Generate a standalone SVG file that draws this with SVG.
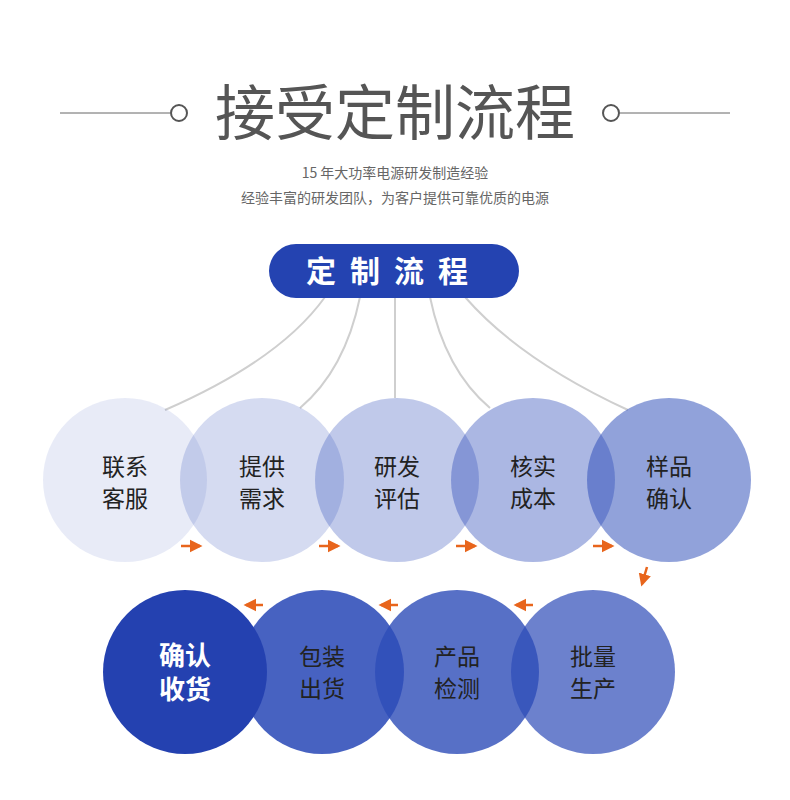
<svg xmlns="http://www.w3.org/2000/svg" width="790" height="800" viewBox="0 0 790 800">
<defs>
<style>
.c{fill:#2d4cb8}
.t{font-family:"Noto Sans CJK SC",sans-serif;font-size:23px;fill:#222;text-anchor:middle}
.conn path{fill:none;stroke:#cfcfcf;stroke-width:2}
.arr line{stroke:#e8651c;stroke-width:2.5;marker-end:url(#ah)}
</style>
<marker id="ah" markerWidth="6" markerHeight="6" refX="4" refY="3" orient="auto" markerUnits="strokeWidth"><path d="M0,0.5 L5,3 L0,5.5Z" fill="#e8651c"/></marker>
</defs>
<rect width="790" height="800" fill="#fff"/>
<g id="title">
<line x1="60" y1="113" x2="170" y2="113" stroke="#666" stroke-width="1"/>
<circle cx="179" cy="113" r="8" fill="none" stroke="#555" stroke-width="2"/>
<circle cx="611" cy="113" r="8" fill="none" stroke="#555" stroke-width="2"/>
<line x1="620" y1="113" x2="730" y2="113" stroke="#666" stroke-width="1"/>
<text x="395" y="135" font-family="Noto Sans CJK SC,sans-serif" font-size="60" fill="#555" text-anchor="middle">接受定制流程</text>
<text x="395" y="178" font-family="Noto Sans CJK SC,sans-serif" font-size="14" fill="#666" text-anchor="middle">15 年大功率电源研发制造经验</text>
<text x="395" y="203" font-family="Noto Sans CJK SC,sans-serif" font-size="14" fill="#666" text-anchor="middle">经验丰富的研发团队，为客户提供可靠优质的电源</text>
</g>
<g class="conn" id="connectors">
<path d="M325,297 Q280,360 165,410"/>
<path d="M360,297 Q345,370 300,408"/>
<path d="M395,297 L395,398"/>
<path d="M430,297 Q445,370 490,408"/>
<path d="M465,297 Q520,360 628,410"/>
</g>
<g id="pill">
<rect x="269" y="244" width="250" height="54" rx="27" fill="#2443b1"/>
<text x="394" y="282" font-family="Noto Sans CJK SC,sans-serif" font-size="30" font-weight="bold" fill="#fff" text-anchor="middle" letter-spacing="14">定制流程</text>
</g>
<g id="n1"><circle class="c" cx="125" cy="480" r="82" opacity="0.11"/><text class="t" x="125" y="475">联系</text><text class="t" x="125" y="507">客服</text></g>
<g id="n2"><circle class="c" cx="262" cy="480" r="82" opacity="0.2"/><text class="t" x="262" y="475">提供</text><text class="t" x="262" y="507">需求</text></g>
<g id="n3"><circle class="c" cx="397" cy="480" r="82" opacity="0.3"/><text class="t" x="397" y="475">研发</text><text class="t" x="397" y="507">评估</text></g>
<g id="n4"><circle class="c" cx="533" cy="480" r="82" opacity="0.4"/><text class="t" x="533" y="475">核实</text><text class="t" x="533" y="507">成本</text></g>
<g id="n5"><circle class="c" cx="669" cy="480" r="82" opacity="0.52"/><text class="t" x="669" y="475">样品</text><text class="t" x="669" y="507">确认</text></g>
<g id="n9"><circle class="c" cx="593" cy="672" r="82" opacity="0.7"/><text class="t" x="593" y="665">批量</text><text class="t" x="593" y="697">生产</text></g>
<g id="n8"><circle class="c" cx="457" cy="672" r="82" opacity="0.8"/><text class="t" x="457" y="665">产品</text><text class="t" x="457" y="697">检测</text></g>
<g id="n7"><circle class="c" cx="322" cy="672" r="82" opacity="0.88"/><text class="t" x="322" y="665">包装</text><text class="t" x="322" y="697">出货</text></g>
<g id="n6"><circle cx="185" cy="672" r="82" fill="#2441b0"/><text class="t" x="185" y="665" style="fill:#fff;font-weight:bold;font-size:26px">确认</text><text class="t" x="185" y="699" style="fill:#fff;font-weight:bold;font-size:26px">收货</text></g>
<g class="arr" id="arrows">
<line x1="181" y1="546" x2="200" y2="546"/>
<line x1="319" y1="546" x2="338" y2="546"/>
<line x1="456" y1="546" x2="475" y2="546"/>
<line x1="593" y1="546" x2="612" y2="546"/>
<line x1="647" y1="567" x2="642" y2="584"/>
<line x1="533" y1="605" x2="516" y2="605"/>
<line x1="398" y1="605" x2="381" y2="605"/>
<line x1="263" y1="605" x2="246" y2="605"/>
</g>
</svg>
